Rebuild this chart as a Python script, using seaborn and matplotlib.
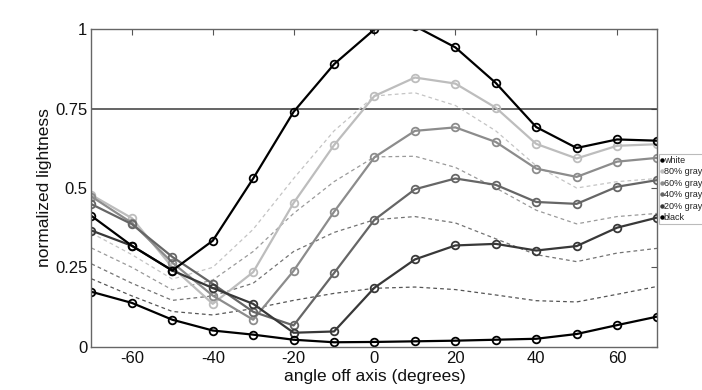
import matplotlib
matplotlib.use("Agg")
import matplotlib.pyplot as plt
from matplotlib.lines import Line2D
import seaborn as sns
import pandas as pd

angles = [-70, -60, -50, -40, -30, -20, -10, 0, 10, 20, 30, 40, 50, 60, 70]

white  = [0.412, 0.318, 0.240, 0.334, 0.530, 0.740, 0.890, 1.000, 1.010, 0.943, 0.831, 0.692, 0.626, 0.653, 0.649]
gray80 = [0.478, 0.405, 0.250, 0.135, 0.235, 0.453, 0.635, 0.790, 0.848, 0.829, 0.753, 0.639, 0.593, 0.633, 0.638]
gray60 = [0.473, 0.390, 0.265, 0.161, 0.085, 0.239, 0.425, 0.597, 0.680, 0.691, 0.645, 0.561, 0.535, 0.583, 0.595]
gray40 = [0.449, 0.386, 0.283, 0.198, 0.110, 0.067, 0.232, 0.400, 0.496, 0.530, 0.510, 0.456, 0.450, 0.504, 0.525]
gray20 = [0.366, 0.318, 0.240, 0.185, 0.135, 0.044, 0.048, 0.186, 0.275, 0.319, 0.324, 0.303, 0.317, 0.375, 0.407]
black  = [0.173, 0.138, 0.085, 0.051, 0.038, 0.022, 0.014, 0.015, 0.017, 0.019, 0.022, 0.025, 0.040, 0.068, 0.095]

ref80 = [0.358, 0.290, 0.213, 0.250, 0.370, 0.530, 0.680, 0.790, 0.800, 0.760, 0.680, 0.570, 0.500, 0.520, 0.530]
ref60 = [0.311, 0.250, 0.179, 0.210, 0.300, 0.420, 0.520, 0.598, 0.600, 0.565, 0.500, 0.430, 0.387, 0.410, 0.420]
ref40 = [0.261, 0.200, 0.146, 0.160, 0.200, 0.300, 0.360, 0.400, 0.410, 0.390, 0.340, 0.290, 0.268, 0.295, 0.310]
ref20 = [0.214, 0.160, 0.111, 0.100, 0.120, 0.146, 0.168, 0.184, 0.188, 0.180, 0.163, 0.145, 0.141, 0.165, 0.190]

series_labels = ["white", "80% gray", "60% gray", "40% gray", "20% gray", "black"]
x_ticks = [-60, -40, -20, 0, 20, 40, 60]
y_ticks = [0, 0.25, 0.5, 0.75, 1]
y_ticklabels = ["0", "0.25", "0.5", "0.75", "1"]
threshold = 0.75

sns.set_theme(style="white")
fam = ["Liberation Sans Narrow", "Liberation Sans", "DejaVu Sans"]
plt.rcParams["font.family"] = fam

fig = plt.figure(figsize=(7.02, 3.90), dpi=100)
ax = fig.add_axes([0.1303, 0.111, 0.8063, 0.8139])

solid = [
    (gray80, "#bdbdbd"),
    (gray60, "#8c8c8c"),
    (gray40, "#666666"),
    (gray20, "#383838"),
    (black, "#000000"),
    (white, "#000000"),
]
dashed = [
    (ref80, "#c4c4c4"),
    (ref60, "#9a9a9a"),
    (ref40, "#737373"),
    (ref20, "#555555"),
]

for vals, col in dashed:
    df = pd.DataFrame({"angle": angles, "v": vals})
    sns.lineplot(data=df, x="angle", y="v", ax=ax, color=col, linestyle=(0, (3, 2.5)),
                 linewidth=0.9, legend=False)

ax.axhline(threshold, color="#3a3a3a", linewidth=1.1, zorder=1.5)

for vals, col in solid:
    df = pd.DataFrame({"angle": angles, "v": vals})
    sns.lineplot(data=df, x="angle", y="v", ax=ax, color=col, linewidth=1.6,
                 marker="o", markersize=5.5, markerfacecolor="none",
                 markeredgecolor=col, markeredgewidth=1.3, legend=False)

ax.set_xlim(-70, 70)
ax.set_ylim(0, 1)
ax.set_xticks(x_ticks)
ax.set_xticklabels([str(t) for t in x_ticks])
ax.set_yticks(y_ticks)
ax.set_yticklabels(y_ticklabels)
ax.tick_params(axis="both", direction="in", length=4, width=0.8, color="#555555",
               labelsize=12, top=True, right=True, pad=3, labelcolor="#111111")
for s in ax.spines.values():
    s.set_color("#666666")
    s.set_linewidth(1.0)
    s.set_visible(True)

ax.set_xlabel("angle off axis (degrees)", fontsize=12.5, color="#111111", labelpad=2)
ax.set_ylabel("normalized lightness", fontsize=12.5, color="#111111", labelpad=2)

leg_cols = ["#000000", "#bdbdbd", "#8c8c8c", "#666666", "#383838", "#000000"]
handles = [Line2D([0], [0], linestyle="none", marker="o", markersize=2.2,
                  color=c) for c in leg_cols]
leg = ax.legend(handles, series_labels, loc="upper left", bbox_to_anchor=(1.002, 0.607),
                borderaxespad=0, frameon=True, fancybox=False, fontsize=6.5,
                handlelength=0.25, handletextpad=0.1, labelspacing=0.28,
                borderpad=0.2)
leg.get_frame().set_edgecolor("#aaaaaa")
leg.get_frame().set_linewidth(0.8)
for t in leg.get_texts():
    t.set_color("#222222")
leg.set_clip_on(False)

fig.savefig("out.png", dpi=100)
